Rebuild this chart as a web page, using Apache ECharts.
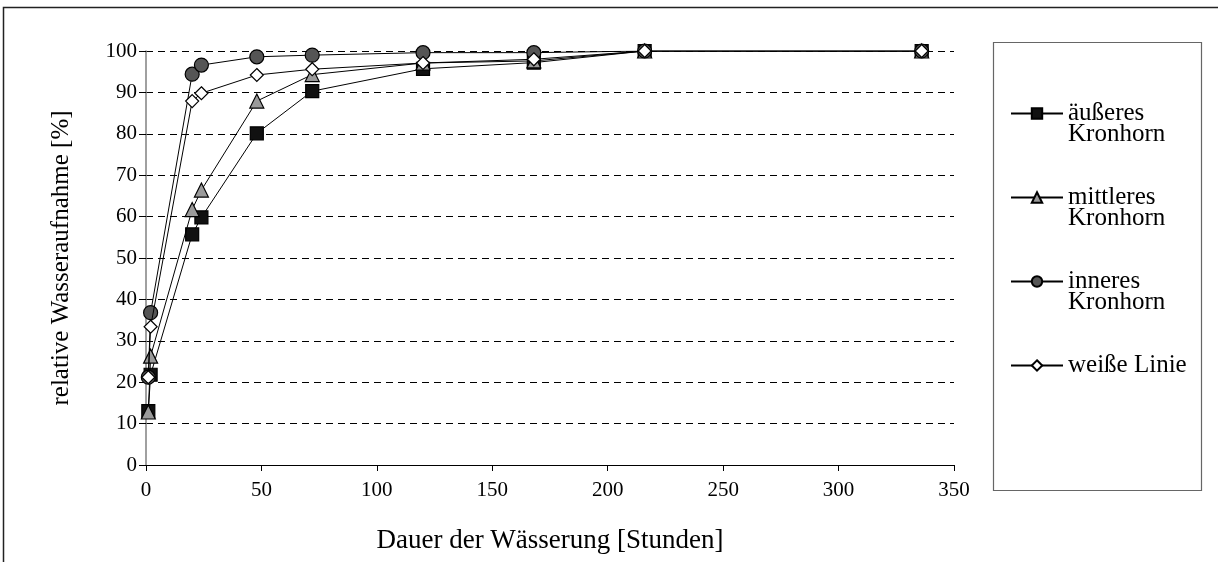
<!DOCTYPE html>
<html>
<head>
<meta charset="utf-8">
<script src="https://cdn.jsdelivr.net/npm/echarts@6/dist/echarts.min.js"></script>
<style>
html,body{margin:0;padding:0;background:#fff;}
#chart{width:1218px;height:562px;}
</style>
</head>
<body>
<div id="chart"></div>
<script>
// Hours of soaking
var hours = [1, 2, 20, 24, 48, 72, 120, 168, 216, 336];
// relative water uptake [%]
var aeusseres  = [13.0, 21.8, 55.7, 59.8, 80.1, 90.3, 95.7, 97.2, 100, 100];
var mittleres  = [12.8, 26.3, 61.7, 66.4, 87.9, 94.3, 97.1, 97.6, 100, 100];
var inneres    = [21.2, 36.8, 94.4, 96.6, 98.6, 99.0, 99.6, 99.6, 100, 100];
var weisse     = [21.2, 33.4, 87.9, 89.8, 94.2, 95.6, 97.1, 98.0, 100, 100];
var seriesNames = ['äußeres\nKronhorn', 'mittleres\nKronhorn', 'inneres\nKronhorn', 'weiße Linie'];
var xTicks = [0, 50, 100, 150, 200, 250, 300, 350];
var yTicks = [0, 10, 20, 30, 40, 50, 60, 70, 80, 90, 100];

function pairs(vals) {
  return hours.map(function (h, i) { return [h, vals[i]]; });
}

var FONT = '"Liberation Serif", "Times New Roman", serif';
var chart = echarts.init(document.getElementById('chart'), null, {renderer: 'canvas'});

var styles = [
  {symbol: 'rect', size: 13, color: '#111111'},
  {symbol: 'triangle', size: 14, color: '#9a9a9a'},
  {symbol: 'circle', size: 14, color: '#555555'},
  {symbol: 'diamond', size: 13, color: '#ffffff'}
];
var allData = [aeusseres, mittleres, inneres, weisse];

var series = allData.map(function (vals, i) {
  return {
    name: seriesNames[i],
    type: 'line',
    data: pairs(vals),
    symbol: styles[i].symbol,
    symbolSize: styles[i].size,
    showAllSymbol: true,
    lineStyle: {color: '#000', width: 1},
    itemStyle: {color: styles[i].color, borderColor: '#000', borderWidth: 1.2},
    emphasis: {disabled: true},
    animation: false,
    z: 2 + i
  };
});

chart.setOption({
  animation: false,
  backgroundColor: '#fff',
  textStyle: {fontFamily: FONT},
  grid: {left: 146, right: 1218 - 954, top: 51, bottom: 562 - 465, containLabel: false},
  xAxis: {
    type: 'value', min: 0, max: 350, interval: 50,
    name: 'Dauer der Wässerung [Stunden]',
    nameLocation: 'middle', nameGap: 62,
    nameTextStyle: {fontFamily: FONT, fontSize: 27, color: '#000'},
    axisLine: {show: true, onZero: false, lineStyle: {color: '#000', width: 1}},
    axisTick: {show: true, inside: false, length: 6, lineStyle: {color: '#000'}},
    axisLabel: {fontFamily: FONT, fontSize: 21, color: '#000', margin: 15,
      formatter: function (v) { return xTicks.indexOf(v) >= 0 ? String(v) : ''; }},
    splitLine: {show: false}
  },
  yAxis: {
    type: 'value', min: 0, max: 100, interval: 10,
    name: 'relative Wasseraufnahme [%]',
    nameLocation: 'middle', nameGap: 72, nameRotate: 90,
    nameTextStyle: {fontFamily: FONT, fontSize: 25, color: '#000'},
    axisLine: {show: true, lineStyle: {color: '#808080', width: 1.5}},
    axisTick: {show: true, inside: false, length: 7, lineStyle: {color: '#000'}},
    axisLabel: {fontFamily: FONT, fontSize: 21, color: '#000', margin: 9,
      formatter: function (v) { return yTicks.indexOf(v) >= 0 ? String(v) : ''; }},
    splitLine: {show: true, lineStyle: {color: '#000', width: 1, type: [7, 5]}}
  },
  legend: {
    orient: 'vertical',
    left: 1010,
    top: 80,
    padding: 0,
    itemWidth: 52,
    itemHeight: 13,
    itemGap: 17,
    selectedMode: false,
    textStyle: {fontFamily: FONT, fontSize: 25, color: '#000', lineHeight: 21},
    formatter: function (name) {
      return name.indexOf('\n') >= 0 ? ' \n' + name : ' \n' + name + '\n ';
    },
    data: seriesNames
  },
  graphic: [
    {type: 'polyline', z: -10, silent: true,
     shape: {points: [[3.5, 600], [3.5, 7.5], [1300, 7.5]]},
     style: {stroke: '#222', lineWidth: 1.5, fill: null}},
    {type: 'rect', z: -5, silent: true,
     shape: {x: 993.5, y: 42.5, width: 208, height: 448},
     style: {fill: '#fff', stroke: '#666', lineWidth: 1.2}}
  ],
  series: series
});
</script>
</body>
</html>
